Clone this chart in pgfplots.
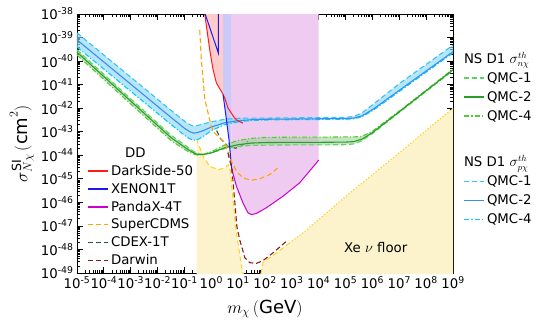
\documentclass[border=0pt]{standalone}
\usepackage{pgfplots}
\pgfplotsset{compat=1.18}
\usepackage{fontspec}
\setmainfont{DejaVu Sans}

\definecolor{dsfill}{HTML}{FFCCCC}
\definecolor{xefill}{HTML}{C9C9FA}
\definecolor{pxfill}{HTML}{EFCBF1}
\definecolor{nufill}{HTML}{FCF3CC}
\definecolor{nuline}{HTML}{FFD21F}
\definecolor{dsline}{HTML}{FF1A1A}
\definecolor{xeline}{HTML}{1A1AF0}
\definecolor{pxline}{HTML}{CC00CC}
\definecolor{cdmsline}{HTML}{FFA500}
\definecolor{cdexline}{HTML}{2F4F4F}
\definecolor{darwinline}{HTML}{8B1A1A}
\definecolor{pQone}{HTML}{33C4F5}
\definecolor{pQtwo}{HTML}{3A90EE}
\definecolor{pQfour}{HTML}{00CCFF}
\definecolor{pband}{HTML}{8FD8F5}
\definecolor{nQone}{HTML}{5CD65C}
\definecolor{nQtwo}{HTML}{2A9D2A}
\definecolor{nQfour}{HTML}{55CC33}
\definecolor{nband}{HTML}{9ED49A}

\newcommand\fs{\fontsize{13.3}{16}\selectfont}

\pgfplotsset{
  dashedline/.style={dash pattern=on 5pt off 3pt},
  dashdotline/.style={dash pattern=on 5pt off 2pt on 1.2pt off 2pt},
  legline/.style={legend image code/.code={\draw[##1, line width=1.3pt] (0pt,0pt) -- (20pt,0pt);}},
}

\begin{document}
\begin{tikzpicture}
\path[use as bounding box] (-77pt,-53pt) rectangle (469pt,273pt);

\begin{axis}[
  at={(0pt,0pt)}, anchor=south west,
  scale only axis, width=376pt, height=259pt,
  xmode=log, ymode=log,
  xmin=1e-5, xmax=1e9, ymin=1e-49, ymax=1e-38,
  max space between ticks=20,
  no markers,
  tick style={black, line width=0.8pt},
  major tick length=6pt, minor tick length=3pt,
  axis line style={line width=0.9pt},
  tick label style={font=\fs},
  label style={font=\fontsize{18}{21}\selectfont},
  xlabel style={yshift=-4pt},
  xticklabel={10\textsuperscript{\pgfmathparse{int(round(\tick/ln(10)))}\pgfmathresult}},
  yticklabel={10\textsuperscript{\pgfmathparse{int(round(\tick/ln(10)))}\pgfmathresult}},
  xlabel={$m_\chi\,(\mathrm{GeV})$},
  ylabel={$\sigma^{\mathrm{SI}}_{N\chi}\,(\mathrm{cm}^2)$},
  legline,
  legend style={draw=none, fill=none, at={(0.02,0.5)}, anchor=north west,
    font=\fs, row sep=2.4pt},
  legend cell align=left,
]
\addlegendimage{empty legend}
\addlegendentry{\hspace*{14pt}DD}

% neutrino floor
\addplot[fill=nufill, draw=none, forget plot] coordinates {
 (0.282,1e-50) (0.282,5.01e-44) (0.495,8.91e-45) (0.879,3.39e-45) (1.79,2.45e-45)
 (3.16,2.88e-45) (4.22,3.98e-45) (5.18,2.09e-45) (6.46,1.32e-46) (8.13,8.32e-48)
 (13.2,2.09e-49) (17.8,5.01e-50) (31.6,3.16e-50) (63.1,5.01e-50) (85.1,2.82e-49)
 (398,1e-48) (1e3,2.24e-48) (3160,6.03e-48) (1e5,1.78e-46) (1e7,1.26e-44)
 (1e9,1e-42) (1e9,1e-50)};

% excluded regions
\addplot[fill=dsfill, draw=none, forget plot] coordinates {
 (0.562,1e-38) (0.562,1.12e-38) (0.879,2.95e-40) (1.167,4.27e-41) (1.56,1.15e-41)
 (2.39,5.13e-42) (3.18,2.69e-42) (4.22,1e-42) (7.41,3.80e-43) (10,2.82e-43)
 (15.1,2.34e-43) (15.1,1e-38)};
\addplot[fill=xefill, draw=none, forget plot] coordinates {
 (2.75,1e-38) (2.75,3.72e-42) (3.67,3.24e-43) (4.57,4.57e-44) (5.64,3.39e-45)
 (5.64,1e-38)};
\addplot[fill=pxfill, draw=none, forget plot] coordinates {
 (5.64,1e-38) (5.64,2.88e-45) (8.65,4.79e-46) (15.1,9.55e-47) (23.4,3.55e-47)
 (31.6,3.02e-47) (47.9,3.39e-47) (112,5.89e-47) (468,1.82e-46) (1950,6.76e-46)
 (8130,4.68e-45) (1e4,6.31e-45) (1e4,1e-38)};

% floor boundary
\addplot[draw=nuline, line width=1pt, dashedline, forget plot] coordinates {
 (0.282,5.01e-44) (0.495,8.91e-45) (0.879,3.39e-45) (1.79,2.45e-45)
 (3.16,2.88e-45) (4.22,3.98e-45) (5.18,2.09e-45) (6.46,1.32e-46) (8.13,8.32e-48)
 (13.2,2.09e-49) (17.8,5.01e-50) (31.6,3.16e-50) (63.1,5.01e-50) (85.1,2.82e-49)
 (398,1e-48) (1e3,2.24e-48)};
\addplot[draw=nuline, line width=1.2pt, dotted, forget plot] coordinates {
 (1e3,2.24e-48) (3160,6.03e-48) (1e5,1.78e-46) (1e7,1.26e-44) (1e9,1e-42)};

% CDEX-1T under the bands
\addplot[draw=cdexline, line width=1.1pt, dashedline, forget plot] coordinates {
 (1.58,1.12e-43) (2.24,5.01e-44) (3.98,2.51e-44) (7.94,2.0e-44) (12.6,2.40e-44)
 (23.4,3.98e-44)};

% NS D1, proton (blue)
\addplot[fill=pband, fill opacity=0.65, draw=none, forget plot] coordinates {
 (1e-5,1.58e-39) (1e-3,2.09e-41) (3.16e-2,8.13e-43) (0.1,2.82e-43) (0.158,2.0e-43)
 (0.224,1.74e-43) (0.316,1.86e-43) (0.501,2.14e-43) (1,2.63e-43) (3.16,3.39e-43)
 (10,3.72e-43) (31.6,3.80e-43) (100,3.80e-43) (1e3,3.89e-43) (1e4,3.98e-43)
 (1e5,4.07e-43) (2e5,4.47e-43) (3.98e5,6.17e-43) (1e6,1.38e-42) (1e7,1.10e-41)
 (1e8,7.24e-41) (1e9,4.79e-40)
 (1e9,2.24e-40) (1e8,3.39e-41) (1e7,5.13e-42) (1e6,7.76e-43) (3.98e5,4.27e-43)
 (2e5,3.55e-43) (1e5,3.39e-43) (1e4,3.31e-43) (1e3,3.24e-43) (100,3.16e-43)
 (31.6,3.02e-43) (10,2.63e-43) (3.16,2.0e-43) (1,1.12e-43) (0.501,6.31e-44)
 (0.316,4.68e-44) (0.224,4.37e-44) (0.158,5.01e-44) (0.1,7.08e-44)
 (3.16e-2,2.04e-43) (1e-3,5.25e-42) (1e-5,3.98e-40)};
\addplot[draw=pQone, line width=1.1pt, dashedline, forget plot] coordinates {
 (1e-5,1.58e-39) (1e-3,2.09e-41) (3.16e-2,8.13e-43) (0.1,2.82e-43) (0.158,2.0e-43)
 (0.224,1.74e-43) (0.316,1.86e-43) (0.501,2.14e-43) (1,2.63e-43) (3.16,3.39e-43)
 (10,3.72e-43) (31.6,3.80e-43) (100,3.80e-43) (1e3,3.89e-43) (1e4,3.98e-43)
 (1e5,4.07e-43) (2e5,4.47e-43) (3.98e5,6.17e-43) (1e6,1.38e-42) (1e7,1.10e-41)
 (1e8,7.24e-41) (1e9,4.79e-40)};
\addplot[draw=pQfour, line width=1.1pt, dashdotline, forget plot] coordinates {
 (1e-5,3.98e-40) (1e-3,5.25e-42) (3.16e-2,2.04e-43) (0.1,7.08e-44) (0.158,5.01e-44)
 (0.224,4.37e-44) (0.316,4.68e-44) (0.501,6.31e-44) (1,1.12e-43) (3.16,2.0e-43)
 (10,2.63e-43) (31.6,3.02e-43) (100,3.16e-43) (1e3,3.24e-43) (1e4,3.31e-43)
 (1e5,3.39e-43) (2e5,3.55e-43) (3.98e5,4.27e-43) (1e6,7.76e-43) (1e7,5.13e-42)
 (1e8,3.39e-41) (1e9,2.24e-40)};
\addplot[draw=pQtwo, line width=1.1pt, forget plot] coordinates {
 (1e-5,7.94e-40) (1e-3,1.05e-41) (3.16e-2,4.07e-43) (0.1,1.41e-43) (0.158,1.0e-43)
 (0.224,8.71e-44) (0.316,9.33e-44) (0.501,1.12e-43) (1,1.58e-43) (3.16,2.40e-43)
 (10,2.95e-43) (31.6,3.24e-43) (100,3.39e-43) (1e3,3.47e-43) (1e4,3.55e-43)
 (1e5,3.63e-43) (2e5,3.80e-43) (3.98e5,4.68e-43) (1e6,8.71e-43) (1e7,5.75e-42)
 (1e8,3.80e-41) (1e9,2.51e-40)};

% NS D1, neutron (green)
\addplot[fill=nband, fill opacity=0.6, draw=none, forget plot] coordinates {
 (1e-5,3.02e-40) (1e-3,2.51e-42) (3.16e-2,7.08e-44) (0.1,2.82e-44) (0.158,1.91e-44)
 (0.224,1.45e-44) (0.316,1.17e-44) (0.501,1.12e-44) (1,1.26e-44) (3.16,1.91e-44)
 (10,2.34e-44) (31.6,2.63e-44) (100,2.69e-44) (1e3,2.75e-44) (1e4,2.75e-44)
 (1e5,2.82e-44) (2e5,3.02e-44) (3.98e5,4.07e-44) (1e6,8.32e-44) (1e7,6.61e-43)
 (1e8,5.13e-42) (1e9,3.98e-41)
 (1e9,4.57e-41) (1e8,5.89e-42) (1e7,7.59e-43) (1e6,1.05e-43) (3.98e5,6.31e-44)
 (2e5,6.03e-44) (1e5,6.03e-44) (1e4,5.89e-44) (1e3,5.89e-44) (100,5.75e-44)
 (31.6,5.25e-44) (10,4.27e-44) (3.16,2.75e-44) (1,1.41e-44) (0.501,1.10e-44)
 (0.316,1.02e-44) (0.224,1.12e-44) (0.158,1.32e-44) (0.1,1.78e-44)
 (3.16e-2,4.27e-44) (1e-3,1.51e-42) (1e-5,1.82e-40)};
\addplot[draw=nQone, line width=1.1pt, dashedline, forget plot] coordinates {
 (1e-5,3.02e-40) (1e-3,2.51e-42) (3.16e-2,7.08e-44) (0.1,2.82e-44) (0.158,1.91e-44)
 (0.224,1.45e-44) (0.316,1.17e-44) (0.501,1.12e-44) (1,1.26e-44) (3.16,1.91e-44)
 (10,2.34e-44) (31.6,2.63e-44) (100,2.69e-44) (1e3,2.75e-44) (1e4,2.75e-44)
 (1e5,2.82e-44) (2e5,3.02e-44) (3.98e5,4.07e-44) (1e6,8.32e-44) (1e7,6.61e-43)
 (1e8,5.13e-42) (1e9,3.98e-41)};
\addplot[draw=nQfour, line width=1.1pt, dashdotline, forget plot] coordinates {
 (1e-5,1.82e-40) (1e-3,1.51e-42) (3.16e-2,4.27e-44) (0.1,1.78e-44) (0.158,1.32e-44)
 (0.224,1.12e-44) (0.316,1.02e-44) (0.501,1.10e-44) (1,1.41e-44) (3.16,2.75e-44)
 (10,4.27e-44) (31.6,5.25e-44) (100,5.75e-44) (1e3,5.89e-44) (1e4,5.89e-44)
 (1e5,6.03e-44) (2e5,6.03e-44) (3.98e5,6.31e-44) (1e6,1.05e-43) (1e7,7.59e-43)
 (1e8,5.89e-42) (1e9,4.57e-41)};
\addplot[draw=nQtwo, line width=1.1pt, forget plot] coordinates {
 (1e-5,2.40e-40) (1e-3,2.0e-42) (3.16e-2,5.62e-44) (0.1,2.24e-44) (0.158,1.58e-44)
 (0.224,1.26e-44) (0.316,1.07e-44) (0.501,1.07e-44) (1,1.26e-44) (3.16,2.09e-44)
 (10,2.82e-44) (31.6,3.31e-44) (100,3.47e-44) (1e3,3.55e-44) (1e4,3.55e-44)
 (1e5,3.63e-44) (2e5,3.80e-44) (3.98e5,4.79e-44) (1e6,9.12e-44) (1e7,7.08e-43)
 (1e8,5.50e-42) (1e9,4.27e-41)};

% direct detection limits
\addplot[draw=dsline, line width=1pt] coordinates {
 (0.562,1.12e-38) (0.879,2.95e-40) (1.167,4.27e-41) (1.56,1.15e-41) (2.39,5.13e-42)
 (3.18,2.69e-42) (4.22,1e-42) (7.41,3.80e-43) (10,2.82e-43) (15.1,2.34e-43)};
\addlegendentry{DarkSide-50}
\addplot[draw=xeline, line width=1pt, forget plot] coordinates {
 (0.573,1.12e-38) (1.85,2.14e-40) (1.85,1.12e-38)};
\addplot[draw=xeline, line width=1pt] coordinates {
 (2.75,3.72e-42) (3.67,3.24e-43) (4.57,4.57e-44) (5.64,3.39e-45) (6.0,1.78e-45)};
\addlegendentry{XENON1T}
\addplot[draw=pxline, line width=1pt] coordinates {
 (5.64,2.88e-45) (8.65,4.79e-46) (15.1,9.55e-47) (23.4,3.55e-47) (31.6,3.02e-47)
 (47.9,3.39e-47) (112,5.89e-47) (468,1.82e-46) (1950,6.76e-46) (8130,4.68e-45)
 (1e4,6.31e-45)};
\addlegendentry{PandaX-4T}
\addplot[draw=cdmsline, line width=1.1pt, dashedline] coordinates {
 (0.372,2.09e-39) (0.427,1.12e-40) (0.575,2.29e-42) (0.759,6.31e-43) (1,1.66e-43)
 (1.35,8.71e-44) (3.16,3.31e-44) (5.62,5.50e-45) (8.71,2.09e-45) (15.1,1.10e-45)
 (30.9,8.71e-46) (63.1,1.0e-45) (148,1.51e-45) (355,3.39e-45)};
\addlegendentry{SuperCDMS}
\addlegendimage{draw=cdexline, dashedline}
\addlegendentry{CDEX-1T}
\addplot[draw=darwinline, line width=1.1pt, dashedline] coordinates {
 (4.17,1.26e-44) (5.89,2.51e-45) (7.41,1.26e-46) (8.91,1e-47) (11.5,2.51e-48)
 (17.8,4.47e-49) (26.9,2.75e-49) (47.9,2.57e-49) (85.1,3.39e-49) (200,7.24e-49)
 (631,2.24e-48)};
\addlegendentry{Darwin}

\node[font=\fs] at (axis cs:1.32e6,1.2e-48) {Xe $\nu$ floor};
\end{axis}

% legend: neutron
\begin{axis}[
  at={(0pt,0pt)}, anchor=south west,
  scale only axis, width=376pt, height=259pt,
  hide axis, xmin=0, xmax=1, ymin=0, ymax=1,
  legline,
  legend style={draw=none, fill=none, at={(1.02,0.87)}, anchor=north west,
    font=\fs, row sep=3.6pt},
  legend cell align=left,
]
\addlegendimage{empty legend}
\addlegendentry{\hspace*{-23pt}NS D1 $\sigma^{th}_{n\chi}$}
\addlegendimage{draw=nQone, dashedline}
\addlegendentry{QMC-1}
\addlegendimage{draw=nQtwo}
\addlegendentry{QMC-2}
\addlegendimage{draw=nQfour, dashdotline}
\addlegendentry{QMC-4}
\end{axis}

% legend: proton
\begin{axis}[
  at={(0pt,0pt)}, anchor=south west,
  scale only axis, width=376pt, height=259pt,
  hide axis, xmin=0, xmax=1, ymin=0, ymax=1,
  legline,
  legend style={draw=none, fill=none, at={(1.02,0.47)}, anchor=north west,
    font=\fs, row sep=3.6pt},
  legend cell align=left,
]
\addlegendimage{empty legend}
\addlegendentry{\hspace*{-23pt}NS D1 $\sigma^{th}_{p\chi}$}
\addlegendimage{draw=pQone, dashedline}
\addlegendentry{QMC-1}
\addlegendimage{draw=pQtwo}
\addlegendentry{QMC-2}
\addlegendimage{draw=pQfour, dashdotline}
\addlegendentry{QMC-4}
\end{axis}
\end{tikzpicture}
\end{document}
